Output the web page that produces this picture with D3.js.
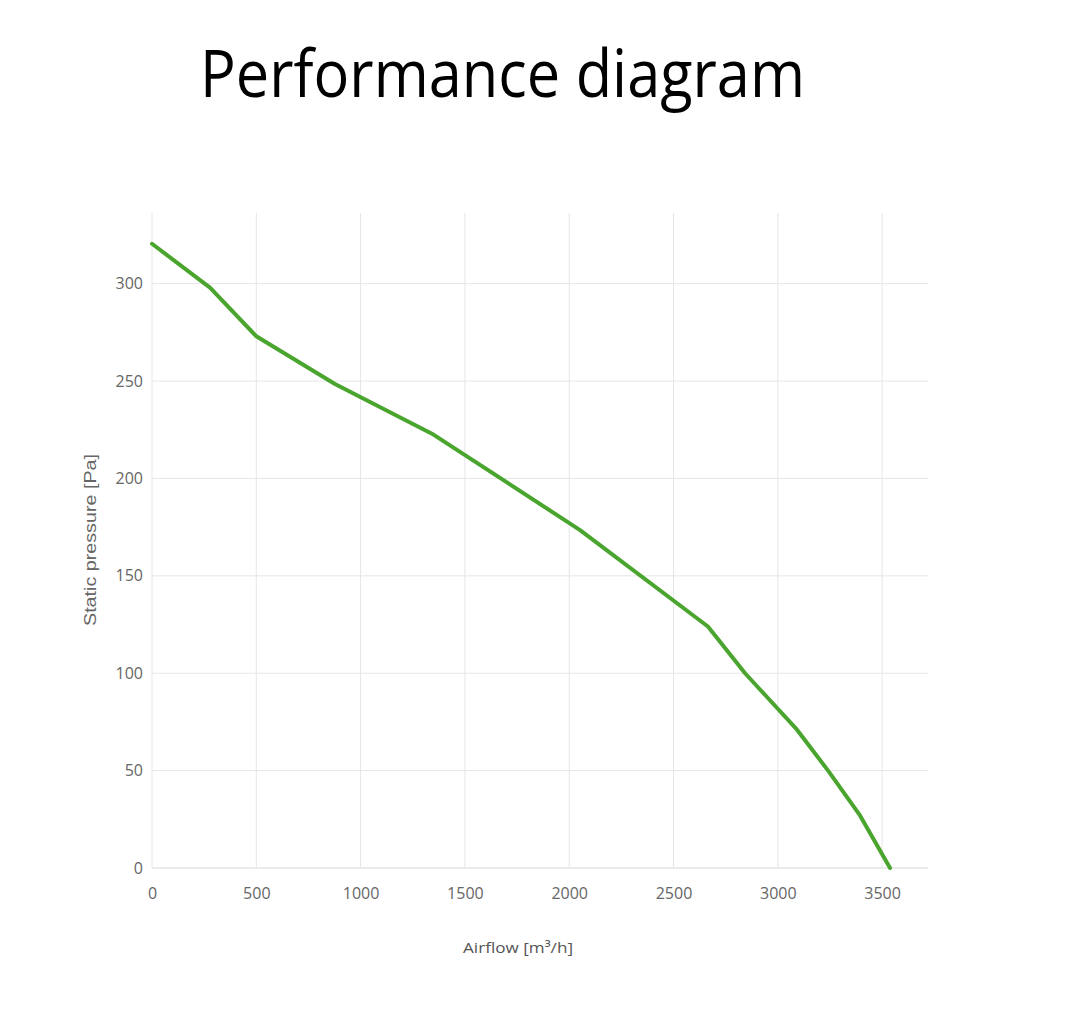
<!DOCTYPE html>
<html>
<head>
<meta charset="utf-8">
<script src="https://d3js.org/d3.v7.min.js"></script>
<style>
  html, body { margin: 0; padding: 0; background: #fff; }
  svg { display: block; }
</style>
</head>
<body>
<script>
const airflow = [0, 278, 500, 877, 1342, 2052, 2665, 2843, 3092, 3241, 3394, 3538];
const pressure = [320.5, 298, 273, 248.5, 223, 173.5, 124, 100, 71, 50, 27, 0];
const xTicks = [0, 500, 1000, 1500, 2000, 2500, 3000, 3500];
const yTicks = [0, 50, 100, 150, 200, 250, 300];

const W = 1068, H = 1030;
const mLeft = 152, mRight = 928, mTop = 213, mBottom = 868;

const svg = d3.select("body").append("svg").attr("width", W).attr("height", H);

const x = d3.scaleLinear().domain([0, 3720]).range([mLeft, mRight]);
const y = d3.scaleLinear().domain([0, 336.3]).range([mBottom, mTop]);

svg.append("text")
  .attr("x", 200).attr("y", 97)
  .attr("font-family", "'Open Sans', sans-serif")
  .attr("font-size", 65)
  .attr("fill", "#000")
  .attr("textLength", 605).attr("lengthAdjust", "spacingAndGlyphs")
  .text("Performance diagram");

// grid
const grid = svg.append("g");
grid.selectAll("line.v").data(xTicks).enter().append("line")
  .attr("x1", d => x(d)).attr("x2", d => x(d))
  .attr("y1", mTop).attr("y2", mBottom)
  .attr("stroke", "#e6e6e6").attr("stroke-width", 1);
grid.selectAll("line.h").data(yTicks).enter().append("line")
  .attr("x1", mLeft).attr("x2", mRight)
  .attr("y1", d => y(d)).attr("y2", d => y(d))
  .attr("stroke", d => d === 0 ? "#ebebeb" : "#e6e6e6")
  .attr("stroke-width", d => d === 0 ? 2 : 1);

// axes with d3 axis (tick labels only)
const xAxis = svg.append("g").attr("transform", `translate(0,${mBottom})`)
  .call(d3.axisBottom(x).tickValues(xTicks).tickSize(0).tickPadding(20).tickFormat(d3.format("d")));
const yAxis = svg.append("g").attr("transform", `translate(${mLeft},0)`)
  .call(d3.axisLeft(y).tickValues(yTicks).tickSize(0).tickPadding(9).tickFormat(d3.format("d")));
[xAxis, yAxis].forEach(a => {
  a.select(".domain").remove();
  a.selectAll("text").attr("font-family", "'Open Sans', sans-serif").attr("font-size", 16).attr("fill", "#666");
});

// line
const line = d3.line().x((d, i) => x(airflow[i])).y((d, i) => y(pressure[i]));
svg.append("path")
  .datum(airflow)
  .attr("d", line)
  .attr("fill", "none")
  .attr("stroke", "#4aa52e")
  .attr("stroke-width", 4)
  .attr("stroke-linejoin", "round")
  .attr("stroke-linecap", "round");

// axis titles
svg.append("text")
  .attr("x", 518).attr("y", 953)
  .attr("text-anchor", "middle")
  .attr("font-family", "'Open Sans', sans-serif").attr("font-size", 15)
  .attr("fill", "#555")
  .attr("textLength", 110).attr("lengthAdjust", "spacingAndGlyphs")
  .text("Airflow [m³/h]");

svg.append("text")
  .attr("transform", `translate(96,540) rotate(-90)`)
  .attr("text-anchor", "middle")
  .attr("font-family", "'Liberation Sans', Arial, sans-serif").attr("font-size", 16)
  .attr("fill", "#666")
  .attr("textLength", 172).attr("lengthAdjust", "spacingAndGlyphs")
  .text("Static pressure [Pa]");
</script>
</body>
</html>
